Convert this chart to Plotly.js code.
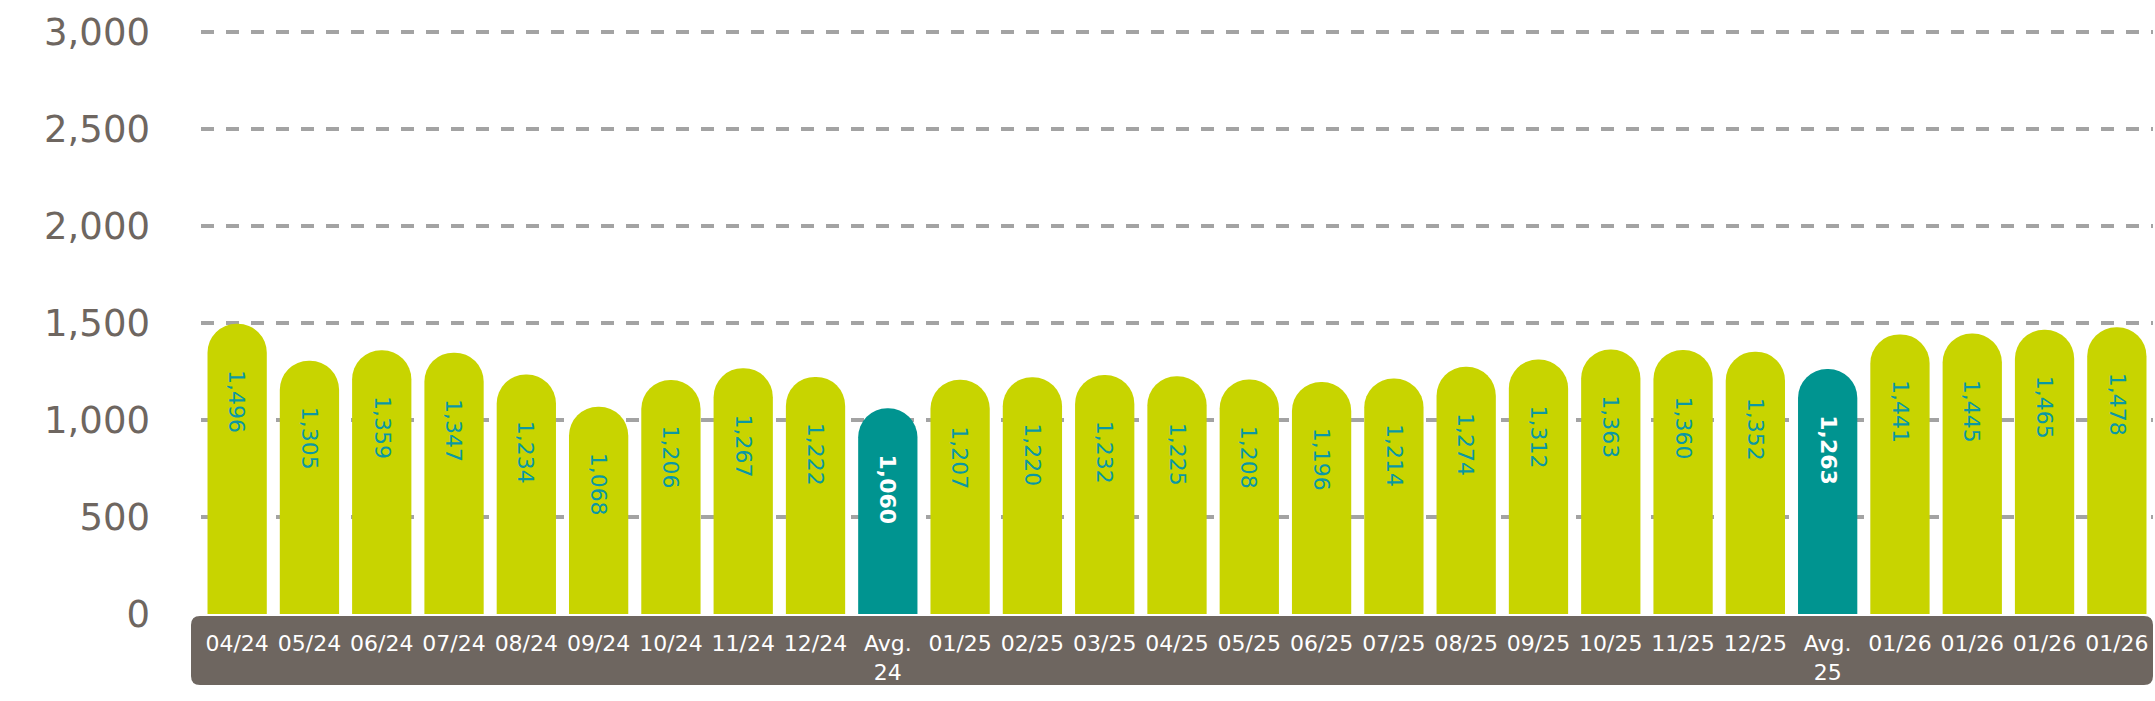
<!DOCTYPE html>
<html>
<head>
<meta charset="utf-8">
<script src="https://cdn.plot.ly/plotly-3.0.1.min.js"></script>
<style>
html,body{margin:0;padding:0;background:#fff;}
#chart{width:2155px;height:701px;}
</style>
</head>
<body>
<div id="chart"></div>
<script>
const categories = ["04/24","05/24","06/24","07/24","08/24","09/24","10/24","11/24","12/24","Avg.<br>24",
  "01/25","02/25","03/25","04/25","05/25","06/25","07/25","08/25","09/25","10/25","11/25","12/25","Avg.<br>25",
  "01/26","01/26","01/26","01/26"];
const values = [1496,1305,1359,1347,1234,1068,1206,1267,1222,1060,
  1207,1220,1232,1225,1208,1196,1214,1274,1312,1363,1360,1352,1263,
  1441,1445,1465,1478];
const isAverage = categories.map(c => c.startsWith("Avg."));
const positions = categories.map((c, i) => i);
const yTicks = [0,500,1000,1500,2000,2500,3000];
const yTickLabels = ["0","500","1,000","1,500","2,000","2,500","3,000"];

const GREEN = "#c8d400", TEAL = "#009490", LABEL_TEAL = "#0a98a4", BROWN = "#6e6660";
const fmt = v => v.toLocaleString("en-US");

const trace = {
  type: "bar",
  x: positions,
  y: values,
  marker: {color: isAverage.map(a => a ? TEAL : GREEN), cornerradius: "50%"},
  hoverinfo: "none"
};

const valueLabels = values.map((v, i) => ({
  x: positions[i], y: v, xref: "x", yref: "y",
  text: isAverage[i] ? "<b>" + fmt(v) + "</b>" : fmt(v),
  textangle: 90, showarrow: false,
  xanchor: "center", yanchor: "top", yshift: -44,
  font: {family: "DejaVu Sans", size: 22, color: isAverage[i] ? "#ffffff" : LABEL_TEAL}
}));

const W = 2155, H = 701;
const mL = 201, mR = 2, mT = 28, mB = 87;
const pw = W - mL - mR, ph = H - mT - mB;
// band rectangle (paper coords) with rounded corners
const bx0 = (191 - mL) / pw, bx1 = (2153 - mL) / pw;
const by1 = (H - mB - 616) / ph, by0 = (H - mB - 685) / ph;
const rx = 9 / pw, ry = 9 / ph;
const bandPath = `M ${bx0+rx} ${by1} L ${bx1-rx} ${by1} Q ${bx1} ${by1} ${bx1} ${by1-ry} L ${bx1} ${by0+ry} Q ${bx1} ${by0} ${bx1-rx} ${by0} L ${bx0+rx} ${by0} Q ${bx0} ${by0} ${bx0} ${by0+ry} L ${bx0} ${by1-ry} Q ${bx0} ${by1} ${bx0+rx} ${by1} Z`;

const layout = {
  width: W, height: H,
  margin: {l: mL, r: mR, t: mT, b: mB, pad: 0},
  paper_bgcolor: "#ffffff", plot_bgcolor: "#ffffff",
  showlegend: false,
  bargap: 0.18,
  xaxis: {
    range: [-0.5, categories.length - 0.5],
    tickvals: positions, ticktext: categories,
    tickfont: {family: "DejaVu Sans", size: 22, color: "#ffffff"},
    ticks: "", showline: false, showgrid: false, zeroline: false,
    tickangle: 0, ticklabelstandoff: 14, automargin: false
  },
  yaxis: {
    range: [0, 3020],
    tickvals: yTicks, ticktext: yTickLabels,
    tickfont: {family: "DejaVu Sans", size: 37, color: BROWN},
    showgrid: true, gridcolor: "#a3a3a3", gridwidth: 3.5, griddash: "13px,12px",
    zeroline: false, showline: false, ticks: "",
    ticklabelstandoff: 50, automargin: false
  },
  annotations: valueLabels,
  shapes: [{type: "path", xref: "paper", yref: "paper", path: bandPath,
    fillcolor: BROWN, line: {width: 0}, layer: "below"}]
};

Plotly.newPlot("chart", [trace], layout, {staticPlot: true, displayModeBar: false});
</script>
</body>
</html>
